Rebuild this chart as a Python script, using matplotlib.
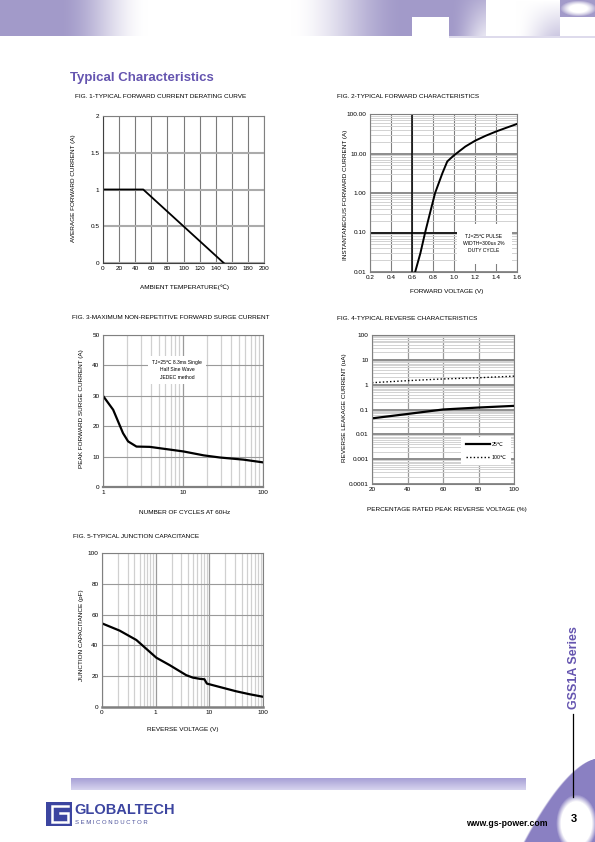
import numpy as np
import matplotlib
matplotlib.use("Agg")
import matplotlib.pyplot as plt
from matplotlib.patches import Rectangle
from matplotlib.lines import Line2D
from matplotlib.ticker import FixedLocator, NullFormatter, LogLocator

plt.rcParams['font.family'] = ['Liberation Sans', 'DejaVu Sans']

# ---------------- data ----------------
fig1_temp = [0, 50, 150]
fig1_current = [1.0, 1.0, 0.0]

fig2_voltage = [0.63, 0.68, 0.725, 0.77, 0.82, 0.89, 0.936, 1.0, 1.108, 1.2, 1.3, 1.4, 1.5, 1.6]
fig2_current = [0.01, 0.03, 0.1, 0.3, 1.0, 3.2, 6.3, 9.0, 15.0, 21.0, 28.0, 36.0, 45.0, 56.0]

fig3_cycles = [1, 1.34, 1.78, 2.06, 2.62, 3.85, 6.87, 10.1, 18.2, 29, 57, 100]
fig3_current = [30, 25.4, 17.7, 15.0, 13.3, 13.2, 12.3, 11.7, 10.4, 9.7, 9.0, 8.1]

fig4_percent = [20, 40, 60, 80, 100]
fig4_25c = [0.044, 0.066, 0.10, 0.12, 0.14]
fig4_100c = [1.2, 1.45, 1.7, 1.9, 2.2]

fig5_voltage = [0.1, 0.213, 0.437, 1.03, 1.82, 3.7, 4.9, 6.6, 8.1, 9.0, 15.6, 31.6, 56, 98]
fig5_cap = [54.3, 49.6, 43.5, 32.0, 27.2, 20.7, 19.1, 18.3, 18.0, 15.2, 13.0, 10.2, 8.3, 6.7]

fig1_xticks = list(range(0, 201, 20))
fig1_yticks = [0, 0.5, 1, 1.5, 2]
fig1_ylabels = ['0', '0.5', '1', '1.5', '2']
fig2_xticks = [0.2, 0.4, 0.6, 0.8, 1.0, 1.2, 1.4, 1.6]
fig2_xlabels = ['0.2', '0.4', '0.6', '0.8', '1.0', '1.2', '1.4', '1.6']
fig2_yticks = [0.01, 0.1, 1, 10, 100]
fig2_ylabels = ['0.01', '0.10', '1.00', '10.00', '100.00']
fig2_mark_v = 0.6
fig2_mark_i = 0.1
fig2_box_v = (1.03, 1.55)
fig2_box_i = (0.0155, 0.16)
fig4_yticks = [0.0001, 0.001, 0.01, 0.1, 1, 10, 100]
fig4_ylabels = ['0.0001', '0.001', '0.01', '0.1', '1', '10', '100']
fig5_xticks = [0.1, 1, 10, 100]
fig5_xlabels = ['0', '1', '10', '100']

# ---------------- figure ----------------
W, H = 595, 842
fig = plt.figure(figsize=(W / 100, H / 100), dpi=100)
fig.patch.set_facecolor('white')

# background decoration (header / footer)
img = np.ones((H, W, 3))
yy, xx = np.mgrid[0:H, 0:W].astype(float)
P = np.array([162, 154, 201]) / 255.0


def paint(mask, color, alpha):
    a = np.clip(alpha, 0, 1)[mask][:, None]
    img[mask] = img[mask] * (1 - a) + np.asarray(color) * a


def ramp(x, a, b):
    t = np.clip((x - a) / (b - a), 0, 1)
    return t * t * (3 - 2 * t)


m = (yy < 36) & (xx < 412)
white = ramp(xx, 58, 148) * (1 - ramp(xx, 290, 405))
paint(m, P, 1 - white)
m = (yy < 17) & (xx >= 412) & (xx < 449)
paint(m, P, np.ones_like(xx))
m = (yy < 36) & (xx >= 449) & (xx < 486)
paint(m, P, 1 - 0.8 * ramp(xx, 449, 490) * (0.3 + 0.7 * yy / 36))
m = (yy < 36) & (xx >= 486) & (xx < 560)
paint(m, P, 0.55 * ramp(xx, 515, 560) * (yy / 36))
m = (yy < 17) & (xx >= 560)
e = ((xx - 578) / 16) ** 2 + ((yy - 8) / 7) ** 2
paint(m, P, np.clip(e - 0.3, 0, 1))
m = (yy >= 36) & (yy < 37.5) & (xx >= 449)
paint(m, P, 0.35 * np.ones_like(xx))

# footer bar
m = (yy >= 778) & (yy < 790) & (xx >= 71) & (xx < 526)
top = np.array([168, 161, 214]) / 255.0
bot = np.array([218, 215, 240]) / 255.0
t = np.clip((yy - 778) / 12, 0, 1)
for c in range(3):
    col = top[c] * (1 - t) + bot[c] * t
    img[..., c] = np.where(m, col, img[..., c])

# swoosh bottom right
xb = 596 - 74 * np.clip((yy - 758) / 84, 0, 1) ** 0.6
m = (yy >= 758) & (xx >= xb)
Pd = np.array([138, 128, 194]) / 255.0
paint(m, Pd, ramp(xx - xb, 0, 3))
e = ((xx - 576) / 19) ** 2 + ((yy - 823) / 27) ** 2
m = (yy >= 758)
a = np.clip((1.15 - e) * 2.0, 0, 1)
paint(m, np.array([1, 1, 1]), a)

bg = fig.add_axes([0, 0, 1, 1], zorder=-10)
bg.imshow(img, aspect='auto', extent=(0, W, H, 0))
bg.set_xlim(0, W)
bg.set_ylim(H, 0)
bg.axis('off')


def T(x, y, s, **kw):
    return fig.text(x / W, 1 - y / H, s, **kw)


def AX(x0, y0, x1, y1):
    return fig.add_axes([x0 / W, 1 - y1 / H, (x1 - x0) / W, (y1 - y0) / H])


FS = 4.6
PURPLE = '#6555b0'

T(70, 78, 'Typical Characteristics', fontsize=9.5, fontweight='bold', color=PURPLE,
  ha='left', va='center')


def style(ax):
    ax.set_facecolor('white')
    ax.tick_params(which='both', length=0, labelsize=FS, pad=2.5)
    for s in ax.spines.values():
        s.set_color('#808080')
        s.set_linewidth(0.8)
    ax.set_axisbelow(True)


# ---------- FIG 1 ----------
ax1 = AX(103, 116, 264, 263)
style(ax1)
ax1.plot(fig1_temp, fig1_current, color='black', lw=1.3)
ax1.set_xlim(0, 200)
ax1.set_ylim(0, 2)
ax1.set_xticks(fig1_xticks)
ax1.set_yticks(fig1_yticks)
ax1.set_yticklabels(fig1_ylabels)
ax1.xaxis.grid(True, color='#7a7a7a', lw=0.8)
ax1.yaxis.grid(True, color='#ababab', lw=1.5)
ax1.spines['left'].set_color('#404040')
ax1.spines['bottom'].set_color('#404040')
T(75, 97, 'FIG. 1-TYPICAL FORWARD CURRENT DERATING CURVE', fontsize=FS, ha='left', va='center')
T(73, 188, 'AVERAGE FORWARD CURRENT (A)', fontsize=FS, rotation=90, ha='center', va='center')
T(185, 287, 'AMBIENT TEMPERATURE(℃)', fontsize=FS, ha='center', va='center')

# ---------- FIG 2 ----------
ax2 = AX(370, 114, 517, 272)
style(ax2)
ax2.set_yscale('log')
ax2.set_xlim(0.2, 1.6)
ax2.set_ylim(0.01, 100)
ax2.set_xticks(fig2_xticks)
ax2.set_xticklabels(fig2_xlabels)
ax2.yaxis.set_major_locator(FixedLocator(fig2_yticks))
ax2.set_yticklabels(fig2_ylabels)
ax2.yaxis.set_minor_locator(LogLocator(base=10, subs=np.arange(2, 10)))
ax2.yaxis.set_minor_formatter(NullFormatter())
ax2.xaxis.grid(True, color='#808080', lw=0.8)
ax2.yaxis.grid(True, which='major', color='#8c8c8c', lw=1.4)
ax2.yaxis.grid(True, which='minor', color='#d2d2d2', lw=0.7)
ax2.axvline(fig2_mark_v, color='black', lw=1.1, zorder=2)
x_lo, x_hi = ax2.get_xlim()
ax2.axhline(fig2_mark_i, xmax=(fig2_box_v[0] - x_lo) / (x_hi - x_lo), color='black', lw=1.1, zorder=2)
ax2.add_patch(Rectangle((fig2_box_v[0], fig2_box_i[0]), fig2_box_v[1] - fig2_box_v[0],
                        fig2_box_i[1] - fig2_box_i[0], facecolor='white',
                        edgecolor='none', zorder=3))
ax2.text(1.28, 0.09, 'TJ=25℃ PULSE\nWIDTH=300us 2%\nDUTY CYCLE', fontsize=3.6,
         ha='center', va='top', linespacing=1.5, zorder=4)
ax2.plot(fig2_voltage, fig2_current, color='black', lw=1.4, zorder=5)
T(337, 97, 'FIG. 2-TYPICAL FORWARD CHARACTERISTICS', fontsize=FS, ha='left', va='center')
T(346, 195, 'INSTANTANEOUS FORWARD CURRENT (A)', fontsize=FS, rotation=90, ha='center', va='center')
T(447, 292, 'FORWARD VOLTAGE (V)', fontsize=FS, ha='center', va='center')

# ---------- FIG 3 ----------
ax3 = AX(103, 335, 263, 487)
style(ax3)
ax3.set_xscale('log')
ax3.set_xlim(1, 100)
ax3.set_ylim(0, 50)
ax3.xaxis.set_major_locator(FixedLocator([1, 10, 100]))
ax3.set_xticklabels(['1', '10', '100'])
ax3.xaxis.set_minor_locator(LogLocator(base=10, subs=np.arange(2, 10)))
ax3.xaxis.set_minor_formatter(NullFormatter())
ax3.set_yticks(range(0, 51, 10))
ax3.xaxis.grid(True, which='major', color='#9a9a9a', lw=0.9)
ax3.xaxis.grid(True, which='minor', color='#d0d0d0', lw=0.9)
ax3.yaxis.grid(True, color='#9a9a9a', lw=0.8)
ax3.spines['bottom'].set_linewidth(1.6)
ax3.text(8.5, 38.5, 'TJ=25℃ 8.3ms Single\nHalf Sine Wave\nJEDEC method', fontsize=3.6,
         ha='center', va='center', linespacing=1.6,
         bbox=dict(facecolor='white', edgecolor='none', pad=3))
ax3.plot(fig3_cycles, fig3_current, color='black', lw=1.6)
T(72, 318, 'FIG. 3-MAXIMUM NON-REPETITIVE FORWARD SURGE CURRENT', fontsize=FS, ha='left', va='center')
T(81, 409, 'PEAK FORWARD SURGE CURRENT (A)', fontsize=FS, rotation=90, ha='center', va='center')
T(185, 512, 'NUMBER OF CYCLES AT 60Hz', fontsize=FS, ha='center', va='center')

# ---------- FIG 4 ----------
ax4 = AX(372, 335, 514, 484)
style(ax4)
ax4.set_yscale('log')
ax4.set_xlim(20, 100)
ax4.set_ylim(0.0001, 100)
ax4.set_xticks(fig4_percent)
ax4.yaxis.set_major_locator(FixedLocator(fig4_yticks))
ax4.set_yticklabels(fig4_ylabels)
ax4.yaxis.set_minor_locator(LogLocator(base=10, subs=np.arange(2, 10)))
ax4.yaxis.set_minor_formatter(NullFormatter())
ax4.xaxis.grid(True, color='#9a9a9a', lw=0.9)
ax4.yaxis.grid(True, which='major', color='#8c8c8c', lw=1.4)
ax4.yaxis.grid(True, which='minor', color='#d2d2d2', lw=0.7)
ax4.plot(fig4_percent, fig4_25c, color='black', lw=1.6, label='25℃')
ax4.plot(fig4_percent, fig4_100c, color='black', lw=1.0, ls=(0, (1, 1.6)), label='100℃')
leg = ax4.legend(loc='lower right', bbox_to_anchor=(1.0, 0.11), fontsize=3.8, frameon=True,
                 handlelength=4.5, borderpad=0.9, labelspacing=1.6, handletextpad=0.4)
leg.get_frame().set_facecolor('white')
leg.get_frame().set_edgecolor('none')
leg.get_frame().set_alpha(1)
leg.get_frame().set_boxstyle('square', pad=0)
T(337, 319, 'FIG. 4-TYPICAL REVERSE CHARACTERISTICS', fontsize=FS, ha='left', va='center')
T(344, 408, 'REVERSE LEAKAGE CURRENT (uA)', fontsize=FS, rotation=90, ha='center', va='center')
T(447, 510, 'PERCENTAGE RATED PEAK REVERSE VOLTAGE (%)', fontsize=FS, ha='center', va='center')

# ---------- FIG 5 ----------
ax5 = AX(102, 553, 263, 707)
style(ax5)
ax5.set_xscale('log')
ax5.set_xlim(0.1, 100)
ax5.set_ylim(0, 100)
ax5.xaxis.set_major_locator(FixedLocator(fig5_xticks))
ax5.set_xticklabels(fig5_xlabels)
ax5.xaxis.set_minor_locator(LogLocator(base=10, subs=np.arange(2, 10)))
ax5.xaxis.set_minor_formatter(NullFormatter())
ax5.set_yticks(range(0, 101, 20))
ax5.xaxis.grid(True, which='major', color='#9a9a9a', lw=0.9)
ax5.xaxis.grid(True, which='minor', color='#d0d0d0', lw=0.9)
ax5.yaxis.grid(True, color='#9a9a9a', lw=0.8)
ax5.spines['bottom'].set_linewidth(1.8)
ax5.plot(fig5_voltage, fig5_cap, color='black', lw=1.6)
T(73, 537, 'FIG. 5-TYPICAL JUNCTION CAPACITANCE', fontsize=FS, ha='left', va='center')
T(81, 635, 'JUNCTION CAPACITANCE (pF)', fontsize=FS, rotation=90, ha='center', va='center')
T(183, 730, 'REVERSE VOLTAGE (V)', fontsize=FS, ha='center', va='center')

# ---------- side text / footer ----------
T(574, 668, 'GSS1A Series', fontsize=9, fontweight='bold', color=PURPLE, rotation=90,
  ha='center', va='center')
fig.add_artist(Line2D([573 / W, 573 / W], [1 - 714 / H, 1 - 797 / H], color='black', lw=0.9))
T(507, 823, 'www.gs-power.com', fontsize=6.3, fontweight='bold', ha='center', va='center')
T(574, 819, '3', fontsize=8, fontweight='bold', ha='center', va='center')

BLUE = '#3c45a0'
# logo icon
fig.add_artist(Rectangle((46 / W, 1 - 826 / H), 26 / W, 24 / H, transform=fig.transFigure,
                         facecolor=BLUE, edgecolor='none'))
for xs, ys in [([68, 52, 52, 66], [806, 806, 822, 822]),
               ([60, 68, 68], [813, 813, 822])]:
    fig.add_artist(Line2D([x / W for x in xs], [1 - y / H for y in ys], color='white', lw=1.8,
                          solid_joinstyle='miter'))
T(74, 810, 'GLOBALTECH', fontsize=10.5, fontweight='bold', color=BLUE, ha='left', va='center')
T(75, 823, 'S E M I C O N D U C T O R', fontsize=4.3, color='#4a509a', ha='left', va='center')

fig.savefig('out.png', dpi=100, facecolor='white')
